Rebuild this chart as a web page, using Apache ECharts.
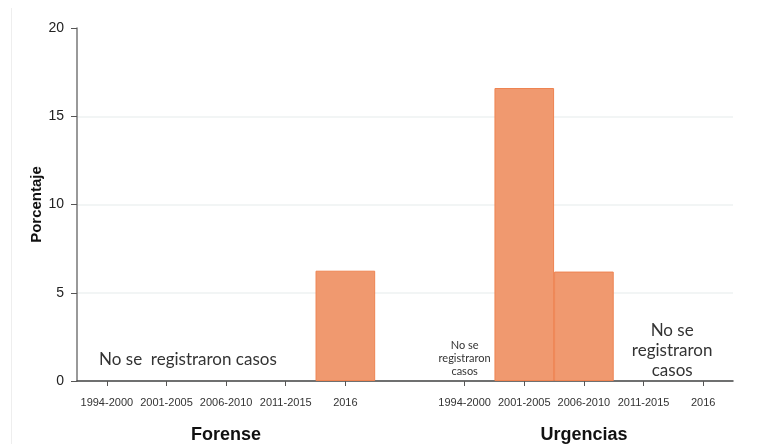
<!DOCTYPE html>
<html><head><meta charset="utf-8">
<script src="https://cdn.jsdelivr.net/npm/echarts@6/dist/echarts.min.js"></script>
<style>html,body{margin:0;padding:0;background:#fff}#c{width:760px;height:444px}</style>
</head><body><div id="c"></div>
<script>
const periods = ['1994-2000','2001-2005','2006-2010','2011-2015','2016'];
const groups = ['Forense','Urgencias'];
const forenseValues = [null, null, null, null, 6.25];
const urgenciasValues = [null, 16.6, 6.2, null, null];
const yTicks = [0, 5, 10, 15, 20];
const noteLines = ['No se', 'registraron', 'casos'];

// build the combined category axis: group1 periods, spacer, group2 periods
const cats = periods.concat(['']).concat(periods);
const values = forenseValues.concat([null]).concat(urgenciasValues);
const groupCats = cats.map((c, i) => i === 2 ? groups[0] : (i === 8 ? groups[1] : ''));
const tickIdx = cats.map((c, i) => c !== '' ? i : null).filter(v => v !== null);

const font = "Arial, 'Liberation Sans', Helvetica, sans-serif";
const chart = echarts.init(document.getElementById('c'), null, {renderer: 'canvas'});
chart.setOption({
  animation: false,
  grid: {left: 77, right: 27, top: 28, bottom: 63},
  xAxis: [{
    type: 'category', data: cats,
    axisLine: {lineStyle: {color: '#444', width: 1.5}},
    axisTick: {show: false},
    axisLabel: {interval: 0, color: '#333', fontSize: 11, fontFamily: font, margin: 16},
    splitLine: {show: false}
  }, {
    type: 'category', data: groupCats, position: 'bottom', offset: 37,
    axisLine: {show: false}, axisTick: {show: false},
    axisLabel: {interval: 0, color: '#111', fontSize: 18, fontWeight: 'bold', fontFamily: font}
  }, {
    type: 'value', position: 'bottom', min: -0.5, max: cats.length - 0.5,
    axisLine: {show: false, onZero: false}, axisLabel: {show: false}, splitLine: {show: false},
    axisTick: {show: true, length: 5, lineStyle: {color: '#555'}, customValues: tickIdx}
  }],
  yAxis: {
    type: 'value', min: yTicks[0], max: yTicks[yTicks.length - 1], interval: 5,
    name: 'Porcentaje', nameLocation: 'middle', nameGap: 33, nameMoveOverlap: false,
    nameTextStyle: {fontSize: 15, fontWeight: 'bold', color: '#111', fontFamily: font},
    axisLine: {show: true, onZero: false, lineStyle: {color: '#777', width: 1.5}},
    axisTick: {show: true, length: 6, lineStyle: {color: '#555'}},
    axisLabel: {color: '#222', fontSize: 14, fontFamily: font, margin: 13},
    splitLine: {show: true, showMaxLine: false, lineStyle: {color: '#eef2f2', width: 1.5}}
  },
  series: [{
    type: 'bar', data: values, barWidth: '100%', xAxisIndex: 0,
    itemStyle: {color: '#F0996F', borderColor: '#EE8452', borderWidth: 1}
  }]
});

function pt(ix, v) {
  const i0 = Math.floor(ix), f = ix - i0;
  const a = chart.convertToPixel({xAxisIndex: 0, yAxisIndex: 0}, [i0, v]);
  const b = chart.convertToPixel({xAxisIndex: 0, yAxisIndex: 0}, [i0 + 1, v]);
  return [a[0] + (b[0] - a[0]) * f, a[1]];
}
const pF = pt(1.36, 1.2), pU1 = pt(6, 1.25), pU2 = pt(9.48, 1.75);
const nf = "Lato, 'Noto Sans', sans-serif";
chart.setOption({
  graphic: [
    {type: 'line', shape: {x1: 11.5, y1: 8, x2: 11.5, y2: 444}, style: {stroke: '#eeeeee', lineWidth: 1}, silent: true},
    {type: 'text', x: pF[0], y: pF[1], style: {text: 'No se  registraron casos', font: '17px ' + nf, fill: '#333', textAlign: 'center', textVerticalAlign: 'middle'}},
    {type: 'text', x: pU1[0], y: pU1[1], style: {text: noteLines.join('\n'), font: '11px ' + nf, lineHeight: 13, fill: '#333', textAlign: 'center', textVerticalAlign: 'middle'}},
    {type: 'text', x: pU2[0], y: pU2[1], style: {text: noteLines.join('\n'), font: '17px ' + nf, lineHeight: 20, fill: '#333', textAlign: 'center', textVerticalAlign: 'middle'}}
  ]
});
</script></body></html>
